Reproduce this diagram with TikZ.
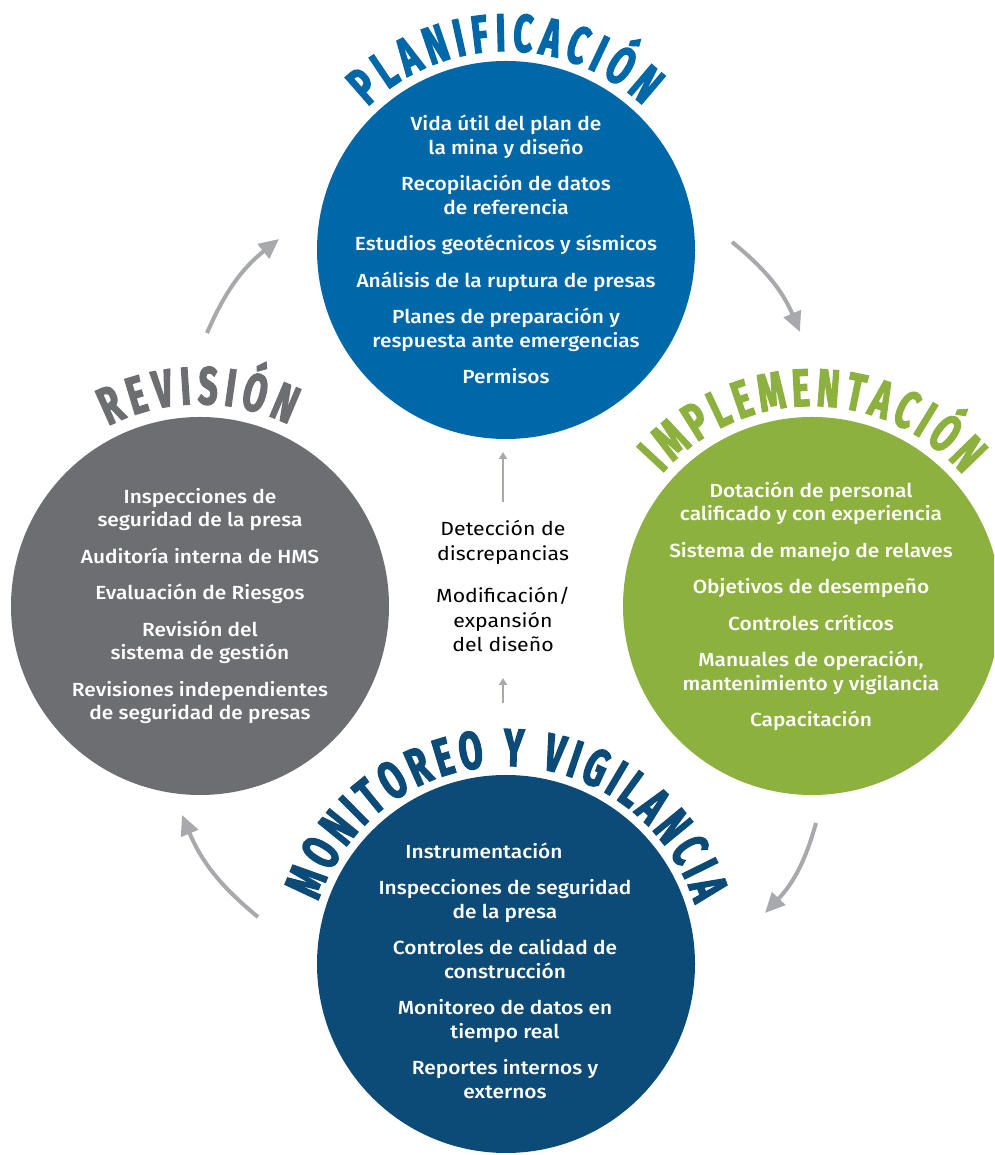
\documentclass[tikz,border=0pt]{standalone}
\usepackage{fontspec}
\usetikzlibrary{decorations.text, arrows.meta}
\newfontfamily\bodyfont{Fira Sans Medium}[FakeStretch=1.1]
\newfontfamily\midfont{Fira Sans}[FakeStretch=1.12]
\newfontfamily\titlefont{Fira Sans Bold}[FakeStretch=0.64, FakeBold=2.4]
\definecolor{planblue}{HTML}{0068A8}
\definecolor{revgray}{HTML}{6D6E71}
\definecolor{impgreen}{HTML}{8DB13F}
\definecolor{mondark}{HTML}{0C4A77}
\definecolor{arrowgray}{HTML}{A7A9AC}
\newcommand{\itemgap}{13pt}
\begin{document}
\begin{tikzpicture}[x=1pt, y=1pt,
  bigcircle/.style={circle, minimum size=378pt, inner sep=0pt, draw=none},
  itemtext/.style={text=white, align=center, font={\bodyfont\fontsize{19}{23.5}\selectfont}},
  midtext/.style={text=black, align=center, font={\midfont\fontsize{19}{24.5}\selectfont}},
  cyclearrow/.style={draw=arrowgray, line width=4pt, -{Triangle[length=20pt, width=18pt]}, bend left=14},
  smallarrow/.style={draw=arrowgray, line width=1.6pt, -{Triangle[length=7pt, width=8pt]}},
  titletext/.style={decorate, decoration={text along path, text align=fit to path, text={#1}}}
]
\clip (0,0) rectangle (994,1155);
\fill[white] (0,0) rectangle (994,1155);

% circles
\node[bigcircle, fill=planblue] (plan) at (506,905) {};
\node[bigcircle, fill=revgray] (rev) at (200,549) {};
\node[bigcircle, fill=impgreen] (imp) at (812,549) {};
\node[bigcircle, fill=mondark] (mon) at (506,191) {};

% titles
\path[titletext={|\titlefont\fontsize{53}{53}\selectfont\color{planblue}|PLANIFICACIÓN}]
  (506,905) ++(134:199pt) arc[start angle=134, end angle=46.5, radius=199pt];
\path[titletext={|\titlefont\fontsize{53}{53}\selectfont\color{revgray}|REVISIÓN}]
  (200,549) ++(117:202pt) arc[start angle=117, end angle=64, radius=202pt];
\path[titletext={|\titlefont\fontsize{53}{53}\selectfont\color{impgreen}|IMPLEMENTACIÓN}]
  (812,549) ++(138.5:200pt) arc[start angle=138.5, end angle=41, radius=200pt];
\path[titletext={|\titlefont\fontsize{53}{53}\selectfont\color{mondark}|MONITOREO Y VIGILANCIA}]
  (506,191) ++(161.5:198pt) arc[start angle=161.5, end angle=17.6, radius=198pt];

% circle texts
\node[itemtext] (plantext) at (506,905.5) {Vida útil del plan de\\la mina y diseño\\[\itemgap]Recopilación de datos\\de referencia\\[\itemgap]Estudios geotécnicos y sísmicos\\[\itemgap]Análisis de la ruptura de presas\\[\itemgap]Planes de preparación y\\respuesta ante emergencias\\[\itemgap]Permisos};
\node[itemtext] (revtext) at (200,549) {Inspecciones de\\seguridad de la presa\\[\itemgap]Auditoría interna de HMS\\[\itemgap]Evaluación de Riesgos\\[\itemgap]Revisión del\\sistema de gestión\\[\itemgap]Revisiones independientes\\de seguridad de presas};
\node[itemtext] (imptext) at (811,548.5) {Dotación de personal\\calificado y con experiencia\\[\itemgap]Sistema de manejo de relaves\\[\itemgap]Objetivos de desempeño\\[\itemgap]Controles críticos\\[\itemgap]Manuales de operación,\\mantenimiento y vigilancia\\[\itemgap]Capacitación};
\node[itemtext] (montext) at (505,184.5) {\hspace*{-42pt}Instrumentación\\[\itemgap]Inspecciones de seguridad\\de la presa\\[\itemgap]Controles de calidad de\\construcción\\[\itemgap]Monitoreo de datos en\\tiempo real\\[\itemgap]Reportes internos y\\externos};

% middle text
\node[midtext] (mid) at (503,568.5) {Detección de\\discrepancias\\[18pt]Modificación/\\expansión\\del diseño};

% small arrows
\coordinate (upA) at (503,653);
\coordinate (upB) at (503,703);
\coordinate (loA) at (503,452);
\coordinate (loB) at (503,477);
\draw[smallarrow] (upA) -- (upB);
\draw[smallarrow] (loA) -- (loB);

% cycle arrows
\coordinate (ulT) at (207,822);
\coordinate (ulH) at (279,916);
\coordinate (urT) at (732,913);
\coordinate (urH) at (800,823);
\coordinate (lrT) at (816,332);
\coordinate (lrH) at (765,242);
\coordinate (llT) at (258,238);
\coordinate (llH) at (182,340);
\draw[cyclearrow] (ulT) to (ulH);
\draw[cyclearrow] (urT) to (urH);
\draw[cyclearrow] (lrT) to (lrH);
\draw[cyclearrow] (llT) to (llH);
\end{tikzpicture}
\end{document}
